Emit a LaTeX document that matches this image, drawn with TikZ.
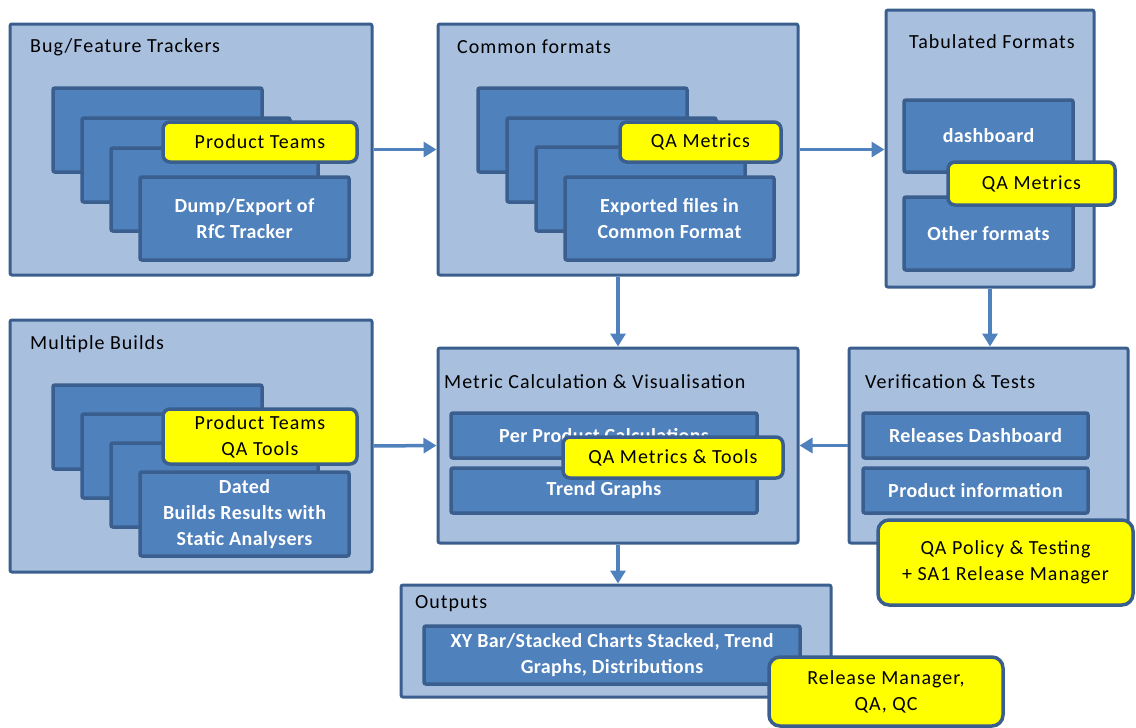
\documentclass[tikz,border=0pt]{standalone}
\usepackage{fontspec}
\setmainfont{Carlito}
\usetikzlibrary{arrows.meta}
\definecolor{outerfill}{HTML}{A8BFDE}
\definecolor{edge}{HTML}{3A5F8E}
\definecolor{innerfill}{HTML}{4F81BD}
\definecolor{yel}{HTML}{FFFF00}
\newcommand\fs{\fontsize{20}{26}\selectfont\addfontfeatures{LetterSpace=5}}
\newcommand\fsb{\fontsize{20}{26}\selectfont\bfseries\addfontfeatures{LetterSpace=2}}
\begin{document}
\begin{tikzpicture}[x=1pt,y=-1pt,
  corners/.style n args={4}{minimum width={#3-#1}, minimum height={#4-#2}, at={({(#1+#3)/2},{(#2+#4)/2})}},
  outerbox/.style={draw=edge, line width=3pt, fill=outerfill, rounded corners=2pt, inner sep=0pt},
  innerbox/.style={draw=edge, line width=3.5pt, fill=innerfill, rounded corners=2pt, inner sep=0pt, text=white, font=\fsb, align=center},
  yellowbox/.style={draw=edge, line width=3.5pt, fill=yel, rounded corners=7pt, inner sep=0pt, align=center, font=\fs},
  bigyellow/.style={yellowbox, rounded corners=11pt},
  title/.style={anchor=west, inner sep=0pt, font=\fs},
  arr/.style={draw=innerfill, line width=3.5pt, -{Triangle[length=13pt,width=15pt]}}]
\useasboundingbox (0,0) rectangle (1136,728);

% Bug/Feature Trackers
\node[outerbox, corners={10}{24}{372}{275}] (B1) {};
\node[title] (t1) at (30,47) {Bug/Feature Trackers};
\node[innerbox, corners={53}{88}{262}{172}] (b1a) {};
\node[innerbox, corners={82}{118}{290}{202}] (b1b) {};
\node[innerbox, corners={111}{148}{318}{231}] (b1c) {};
\node[innerbox, corners={140}{177}{349}{260}] (b1d) {Dump/Export of\\RfC Tracker};
\node[yellowbox, corners={163}{122}{357}{162}] (y1) {Product Teams};

% Common formats
\node[outerbox, corners={438}{24}{798}{275}] (B2) {};
\node[title] (t2) at (457,47) {Common formats};
\node[innerbox, corners={478}{88}{687}{172}] (b2a) {};
\node[innerbox, corners={507}{118}{716}{202}] (b2b) {};
\node[innerbox, corners={536}{147}{745}{231}] (b2c) {};
\node[innerbox, corners={565}{177}{774}{260}] (b2d) {Exported files in\\Common Format};
\node[yellowbox, corners={620}{122}{781}{162}] (y2) {QA Metrics};

% Tabulated Formats
\node[outerbox, corners={886}{10}{1094}{287}] (B3) {};
\node[font=\fs, inner sep=0pt] (t3) at (992,42) {Tabulated Formats};
\node[innerbox, corners={904}{100}{1073}{172}] (b3a) {dashboard};
\node[innerbox, corners={904}{197}{1073}{270}] (b3b) {Other formats};
\node[yellowbox, corners={948}{162}{1115}{205}] (y3) {QA Metrics};

% Multiple Builds
\node[outerbox, corners={10}{320}{372}{572}] (B4) {};
\node[title] (t4) at (30,344) {Multiple Builds};
\node[innerbox, corners={53}{385}{262}{469}] (b4a) {};
\node[innerbox, corners={82}{414}{290}{498}] (b4b) {};
\node[innerbox, corners={111}{443}{318}{527}] (b4c) {};
\node[innerbox, corners={140}{472}{349}{556}] (b4d) {Dated\\Builds Results with\\Static Analysers};
\node[yellowbox, corners={163}{409}{357}{464}] (y4) {Product Teams\\QA Tools};

% Metric Calculation
\node[outerbox, corners={438}{348}{798}{543}] (B5) {};
\node[title] (t5) at (444,382) {Metric Calculation \& Visualisation};
\node[innerbox, corners={451}{413}{757}{458}] (b5a) {Per Product Calculations};
\node[innerbox, corners={451}{468}{757}{513}] (b5b) {Trend Graphs};
\node[yellowbox, corners={563}{437}{783}{478}] (y5) {QA Metrics \& Tools};

% Verification & Tests
\node[outerbox, corners={849}{348}{1128}{543}] (B6) {};
\node[title] (t6) at (865,382) {Verification \& Tests};
\node[innerbox, corners={863}{413}{1088}{458}] (b6a) {Releases Dashboard};
\node[innerbox, corners={863}{468}{1088}{513}] (b6b) {Product information};
\node[bigyellow, corners={878}{520}{1133}{605}] (y6) {QA Policy \& Testing\\+ SA1 Release Manager};

% Outputs
\node[outerbox, corners={401}{585}{831}{697}] (B7) {};
\node[title] (t7) at (415,604) {Outputs};
\node[innerbox, corners={424}{626}{800}{684}] (b7a) {XY Bar/Stacked Charts Stacked, Trend\\Graphs, Distributions};
\node[bigyellow, corners={769}{657}{1003}{726}] (y7) {Release Manager,\\QA, QC};

% Connectors
\draw[arr] (B1.east) -- (B2.west);
\draw[arr] (B2.east) -- (B2.east -| B3.west);
\draw[arr] (B2.south) -- (B5.north);
\draw[arr] (B3.south) -- (B3.south |- B6.north);
\draw[arr] (B4.east) -- (B5.west);
\draw[arr] (B6.west) -- (B5.east);
\draw[arr] (B5.south) -- (B5.south |- B7.north);
\end{tikzpicture}
\end{document}
